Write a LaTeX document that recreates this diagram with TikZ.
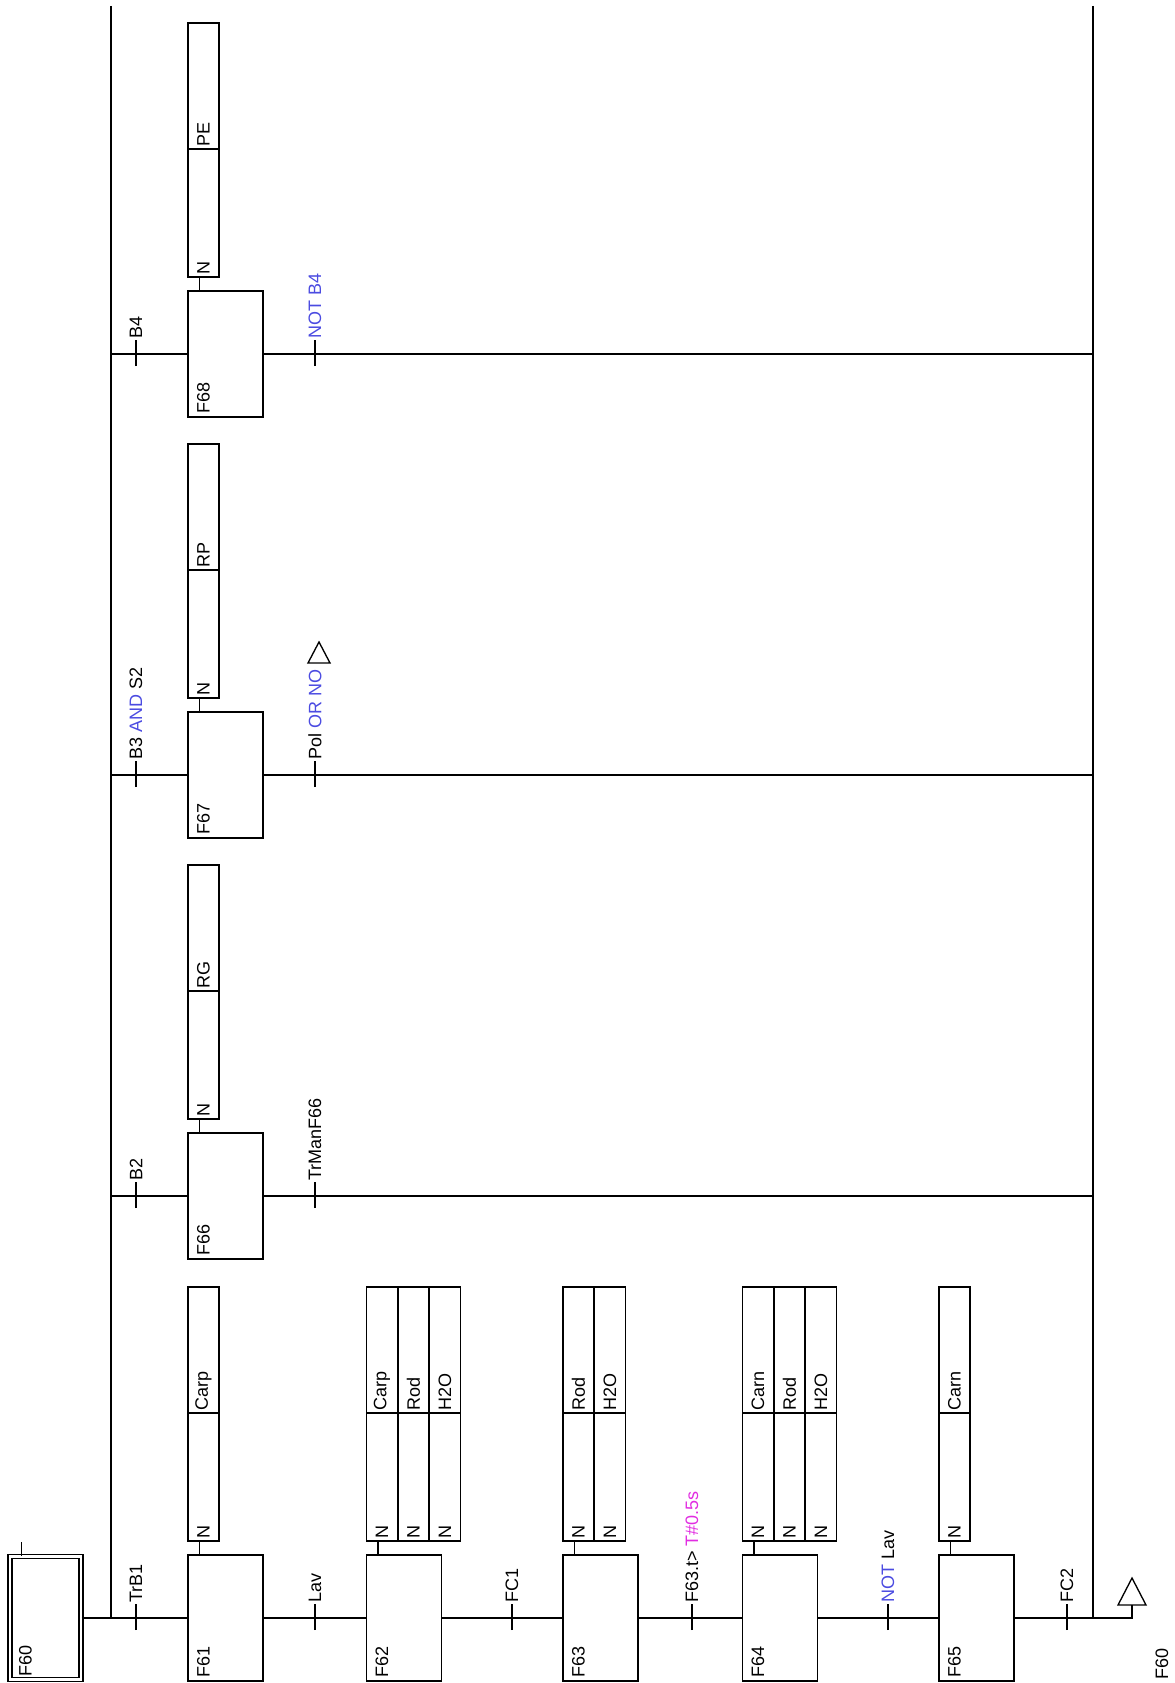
\documentclass[tikz,border=0pt]{standalone}
\usepackage{fontspec}
\setmainfont{Liberation Sans}
\usepackage{xcolor}
\usetikzlibrary{math}
\definecolor{kwblue}{RGB}{75,75,225}
\definecolor{timemag}{RGB}{225,45,225}
\tikzset{
 sfc/.style={line width=1pt},
 stepbox/.style={draw, minimum width=56.25pt, minimum height=94.5pt, inner sep=0pt},
 initstep/.style={draw, double, double distance=2.1pt, minimum width=53.25pt, minimum height=92.25pt, inner sep=0pt},
 txt/.style={rotate=90, font=\fontsize{13.5}{15}\selectfont, inner sep=1pt},
 qcell/.style={draw, txt, minimum width=96pt, minimum height=23.25pt, text width=92pt, align=left, inner xsep=2pt, inner ysep=0pt},
 acell/.style={qcell, minimum width=94.5pt, text width=90.5pt},
 trlbl/.style={txt, anchor=west, inner sep=0.5pt},
 stepname/.style={txt, anchor=west},
}
\begin{document}
\begin{tikzpicture}[x=0.75pt, y=-0.75pt, sfc]
\tikzmath{
\rowA=354;
\rowB=775;
\rowC=1196;
\rowM=1618;
}
\useasboundingbox (0,0) rectangle (1174,1683);

\node[initstep] (F60) at (45.5,\rowM) {};
\node[stepname] (L60) at ([xshift=12pt,yshift=1.5pt]F60.south west) {F60};
\draw ([xshift=9pt]F60.north west) -- ++(0,-14);

\foreach \s/\x/\y in {61/225.5/\rowM, 62/404/\rowM, 63/600.5/\rowM, 64/780/\rowM, 65/976.5/\rowM, 66/225.5/\rowC, 67/225.5/\rowB, 68/225.5/\rowA}{
 \node[stepbox] (S\s) at (\x,\y) {};
 \node[stepname] (L\s) at ([xshift=12pt,yshift=1.5pt]S\s.south west) {F\s};
}

\foreach \s/\x/\y/\acts in {61/225.5/\rowM/{Carp}, 62/404/\rowM/{Carp,Rod,H2O}, 63/600.5/\rowM/{Rod,H2O}, 64/780/\rowM/{Carn,Rod,H2O}, 65/976.5/\rowM/{Carn}, 66/225.5/\rowC/{RG}, 67/225.5/\rowB/{RP}, 68/225.5/\rowA/{PE}}{
 \foreach \a [count=\k] in \acts {
  \node[qcell] (Q\s-\k) at ({\x-22+31.5*(\k-1)},{\y-141}) {N};
  \node[acell] (A\s-\k) at ({\x-22+31.5*(\k-1)},{\y-268}) {\a};
 }
 \draw ([xshift=9pt]S\s.north west) -- ([xshift=9pt]S\s.north west |- Q\s-1.west);
}

\coordinate (busL) at (111,6);
\coordinate (busR) at (1093,6);
\coordinate (jmp) at (1132,\rowM);
\draw (busL) -- (busL |- S61.west);
\draw (busR) -- (busR |- S65.east);
\draw (F60.east) -- (S61.west);
\draw (S61.east) -- (S62.west);
\draw (S62.east) -- (S63.west);
\draw (S63.east) -- (S64.west);
\draw (S64.east) -- (S65.west);
\draw (S65.east) -- (jmp) -- ++(0,-13);
\draw (jmp) ++(-14,-13) -- ++(28,0) -- ++(-14,-27) -- cycle;
\node[stepname] (J60) at (1162,1681) {F60};

\foreach \s in {66,67,68}{
 \draw (busL |- S\s.west) -- (S\s.west);
 \draw (S\s.east) -- (busR |- S\s.east);
}

\foreach \x/\y/\t [count=\i] in {136/\rowM/{TrB1}, 315/\rowM/{Lav}, 512/\rowM/{FC1}, 692/\rowM/{F63.t> \textcolor{timemag}{T\#0.5s}}, 888/\rowM/{\textcolor{kwblue}{NOT} Lav}, 1067/\rowM/{FC2}, 136/\rowC/{B2}, 315/\rowC/{TrManF66}, 136/\rowB/{B3 \textcolor{kwblue}{AND} S2}, 315/\rowB/{Pol \textcolor{kwblue}{OR NO}}, 136/\rowA/{B4}, 315/\rowA/{\textcolor{kwblue}{NOT B4}}}{
 \draw (\x,\y+12) -- (\x,\y-14) node[trlbl] (T\i) {\t};
}
\draw ([xshift=3pt,yshift=4pt]T10.east) ++(-11,0) -- ++(22,0) -- ++(-11,-21) -- cycle;
\end{tikzpicture}
\end{document}
